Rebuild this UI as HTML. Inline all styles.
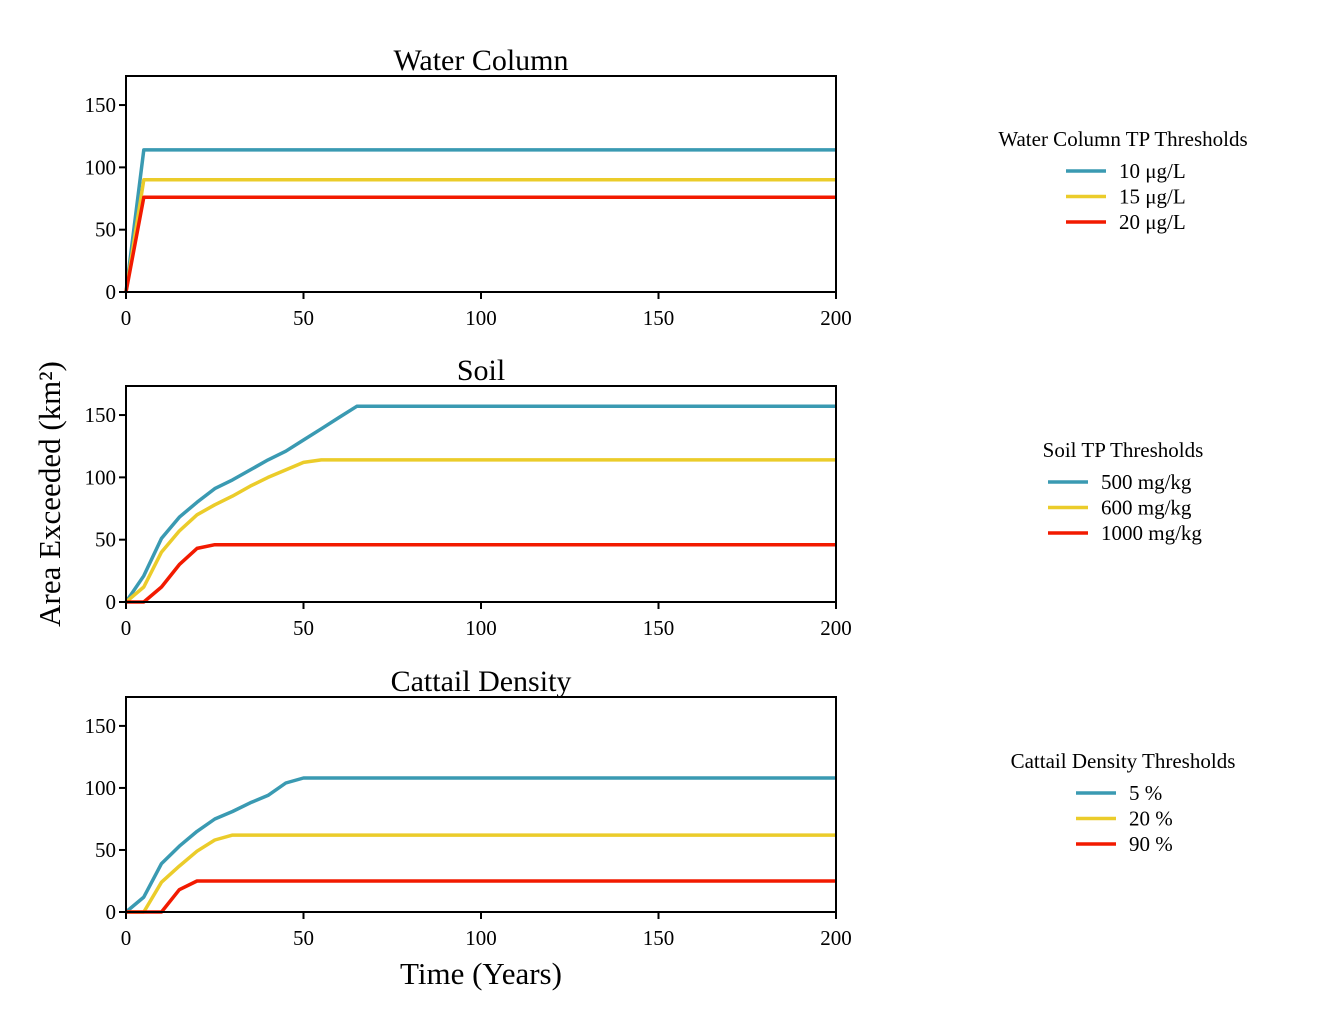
<!DOCTYPE html>
<html><head><meta charset="utf-8"><style>
body{margin:0;background:#fff;}
svg text{font-family:"Liberation Serif",serif;fill:#000;}
</style></head><body>
<svg id="c" width="1344" height="1008" xmlns="http://www.w3.org/2000/svg">
<text x="50" y="494" font-size="31" text-anchor="middle" transform="rotate(-90 50 494)" dy="10">Area Exceeded (km²)</text>
<text x="481" y="984" font-size="31" text-anchor="middle">Time (Years)</text>
</svg>
<script>
const years = [0,5,10,15,20,25,30,35,40,45,50,55,60,65,70,200];
const wc10 = [0,114,114,114,114,114,114,114,114,114,114,114,114,114,114,114];
const wc15 = [0,90,90,90,90,90,90,90,90,90,90,90,90,90,90,90];
const wc20 = [0,76,76,76,76,76,76,76,76,76,76,76,76,76,76,76];
const soil500 = [0,21,51,68,80,91,98,106,114,121,130,139,148,157,157,157];
const soil600 = [0,12,40,57,70,78,85,93,100,106,112,114,114,114,114,114];
const soil1000 = [0,0,12,30,43,46,46,46,46,46,46,46,46,46,46,46];
const cat5 = [0,12,39,53,65,75,81,88,94,104,108,108,108,108,108,108];
const cat20 = [0,0,24,37,49,58,62,62,62,62,62,62,62,62,62,62];
const cat90 = [0,0,0,18,25,25,25,25,25,25,25,25,25,25,25,25];
const xTicks = [0,50,100,150,200];
const yTicks = [0,50,100,150];
const colors = ["#3a9ab2","#ebcc2a","#f21a00"];

const svg = document.getElementById('c');
const NS = "http://www.w3.org/2000/svg";
function mk(tag, attrs, parent){const e=document.createElementNS(NS,tag);for(const k in attrs)e.setAttribute(k,attrs[k]);(parent||svg).appendChild(e);return e;}

const panels = [
 {title:"Water Column",top:76,bottom:292,series:[wc10,wc15,wc20],lt:"Water Column TP Thresholds",labels:["10 μg/L","15 μg/L","20 μg/L"],ly:139,lx:1066,name:"water-column"},
 {title:"Soil",top:386,bottom:602,series:[soil500,soil600,soil1000],lt:"Soil TP Thresholds",labels:["500 mg/kg","600 mg/kg","1000 mg/kg"],ly:450,lx:1048,name:"soil"},
 {title:"Cattail Density",top:697,bottom:912,series:[cat5,cat20,cat90],lt:"Cattail Density Thresholds",labels:["5 %","20 %","90 %"],ly:761,lx:1076,name:"cattail-density"}
];
const L=126,R=836;
panels.forEach(p=>{
  const g=mk('g',{});
  
  
  const ys=(p.bottom-p.top)/173.3;
  const X=v=>L+(v/200)*(R-L);
  const Y=v=>p.bottom-v*ys;
  p.series.forEach((s,i)=>{
    const d=s.map((v,j)=>(j?'L':'M')+X(years[j]).toFixed(1)+' '+Y(v).toFixed(1)).join(' ');
    const path=mk('path',{d:d,fill:'none',stroke:colors[i],'stroke-width':3.5,'stroke-linejoin':'round'},g);
    
    
  });
  const box=mk('rect',{x:L,y:p.top,width:R-L,height:p.bottom-p.top,fill:'none',stroke:'#000','stroke-width':2},g);
  
  
  const t=mk('text',{x:481,y:p.top-6,'font-size':30,'text-anchor':'middle'},g);t.textContent=p.title;
  
  
  xTicks.forEach(v=>{
    mk('line',{x1:X(v),x2:X(v),y1:p.bottom,y2:p.bottom+7,stroke:'#000','stroke-width':2},g);
    const tx=mk('text',{x:X(v),y:p.bottom+33,'font-size':21,'text-anchor':'middle'},g);tx.textContent=v;
    
    
  });
  yTicks.forEach(v=>{
    mk('line',{x1:L-7,x2:L,y1:Y(v),y2:Y(v),stroke:'#000','stroke-width':2},g);
    const ty=mk('text',{x:L-10,y:Y(v)+7,'font-size':21,'text-anchor':'end'},g);ty.textContent=v;
    
    
  });
  const lg=mk('g',{});
  
  
  const lt=mk('text',{x:1123,y:p.ly+7,'font-size':21,'text-anchor':'middle'},lg);lt.textContent=p.lt;
  p.labels.forEach((lab,i)=>{
    const yy=p.ly+32+i*25.5;
    const e=mk('g',{},lg);
    
    
    mk('line',{x1:p.lx,x2:p.lx+40,y1:yy,y2:yy,stroke:colors[i],'stroke-width':3.5},e);
    const tt=mk('text',{x:p.lx+53,y:yy+7,'font-size':21},e);tt.textContent=lab;
  });
});
</script>
</body></html>
